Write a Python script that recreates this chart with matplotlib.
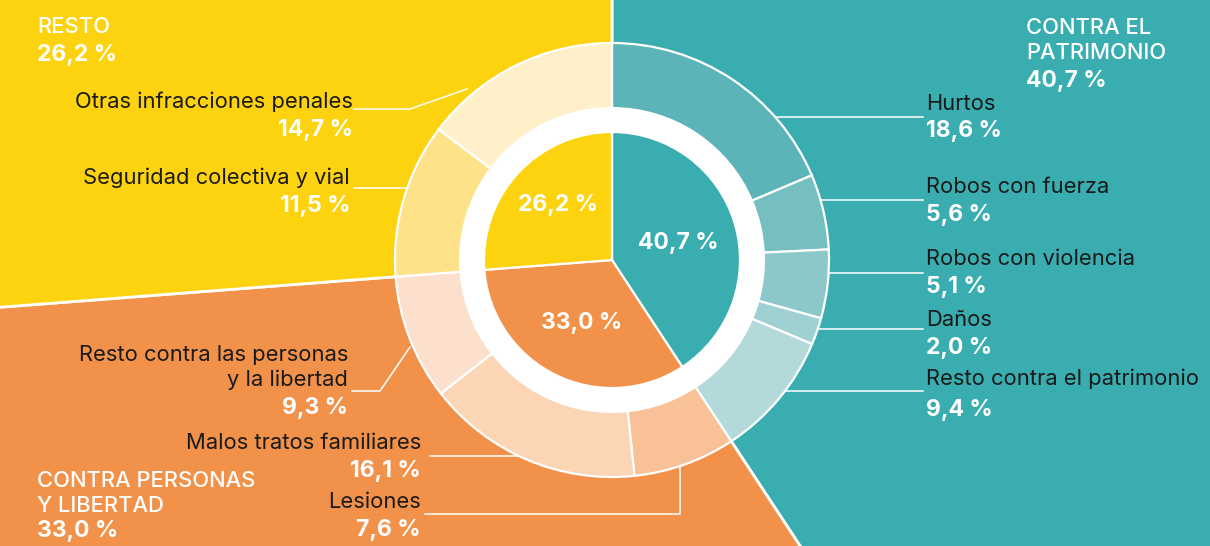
import matplotlib.pyplot as plt

plt.rcParams['font.family'] = ['Inter', 'DejaVu Sans']

W, H = 1210, 546

# grupos (anillo interior)
grupo_pct = [40.7, 33.0, 26.2]
grupo_col = ['#3AADB0', '#F2924A', '#FDD30F']
grupo_labels = ['CONTRA EL\nPATRIMONIO', 'CONTRA PERSONAS\nY LIBERTAD', 'RESTO']

# subcategorias (anillo exterior), en sentido horario desde arriba
sub_labels = ['Hurtos', 'Robos con fuerza', 'Robos con violencia', 'Daños',
              'Resto contra el patrimonio', 'Lesiones', 'Malos tratos familiares',
              'Resto contra las personas\ny la libertad', 'Seguridad colectiva y vial',
              'Otras infracciones penales']
sub_pct = [18.6, 5.6, 5.1, 2.0, 9.4, 7.6, 16.1, 9.3, 11.5, 14.7]
sub_col = ['#5CB4B8', '#75BFC1', '#8CC8C9', '#A0D1D2', '#B3D9DA',
           '#F8C197', '#FCD5B5', '#FCE0CD', '#FEE28A', '#FFF0CA']

fig = plt.figure(figsize=(W / 100, H / 100), dpi=100)
fig.patch.set_facecolor('white')

cx, cy, R = 612, 260, 217
ax = fig.add_axes([6 / W, 0, (W - 6) / W, (H - 5) / H])
kw = dict(startangle=90, counterclock=False)
ax.pie(grupo_pct, colors=grupo_col, radius=6, wedgeprops=dict(edgecolor='white', linewidth=2), **kw)
ax.pie(sub_pct, colors=sub_col, radius=1, wedgeprops=dict(width=0.30, edgecolor='white', linewidth=1.6), **kw)
ax.pie([1], colors=['white'], radius=0.70)
ax.pie(grupo_pct, colors=grupo_col, radius=0.59, wedgeprops=dict(edgecolor='white', linewidth=1.6), **kw)
ax.set_aspect('auto')
ax.set_xlim((6 - cx) / R, (W - cx) / R)
ax.set_ylim((cy - H) / R, (cy - 5) / R)
ax.axis('off')

# capa de textos en pixeles
ov = fig.add_axes([0, 0, 1, 1])
ov.set_xlim(0, W); ov.set_ylim(H, 0)
ov.axis('off'); ov.patch.set_alpha(0)

fs_lab, fs_pct, fs_head = 15.8, 16.5, 15.8
dark = '#1A1A1A'
LINE = 25

def pct(v):
    return f"{v:.1f} %".replace('.', ',')

def lines(x, y, s, **k):
    for j, t in enumerate(s.split('\n')):
        ov.text(x, y + j * LINE, t, va='center', **k)

# lineas guia
lc = dict(color='white', lw=1.1)
for y, x0 in [(117, 777), (200, 820), (273, 829), (329, 818), (391, 785)]:
    ov.plot([x0, 923], [y, y], **lc)
ov.plot([354, 410, 467], [109, 109, 89], **lc)
ov.plot([354, 406], [188, 188], **lc)
ov.plot([352, 380, 410], [391, 391, 347], **lc)
ov.plot([430, 519], [456, 456], **lc)
ov.plot([425, 680, 680], [514, 514, 466], **lc)

# etiquetas derecha
for i, (yl, yp) in enumerate([(104, 131), (187, 215), (259, 287), (320, 348), (379, 410)]):
    lines(926, yl, sub_labels[i], fontsize=fs_lab, color=dark, ha='left')
    ov.text(926, yp, pct(sub_pct[i]), fontsize=fs_pct, color='white', va='center', ha='left', fontweight='bold')

# etiquetas izquierda
left = [(5, 421, 502, 530), (6, 421, 443, 471), (7, 348, 355, 408), (8, 350, 178, 206), (9, 353, 102, 130)]
for i, x, yl, yp in left:
    lines(x, yl, sub_labels[i], fontsize=fs_lab, color=dark, ha='right')
    ov.text(x, yp, pct(sub_pct[i]), fontsize=fs_pct, color='white', va='center', ha='right', fontweight='bold')

# cabeceras de grupo
for (x, y, yp), lab, v in zip([(1026, 28, 81), (37, 481, 531), (37, 27, 55)], grupo_labels, grupo_pct):
    lines(x, y, lab, fontsize=fs_head, color='white', ha='left', fontweight='medium')
    ov.text(x, yp, pct(v), fontsize=fs_pct, color='white', va='center', ha='left', fontweight='bold')

# porcentajes del circulo interior
for (x, y), v in zip([(678, 243), (582, 323), (558, 205)], grupo_pct):
    ov.text(x, y, pct(v), fontsize=fs_pct, color='white', va='center', ha='center', fontweight='bold')

fig.savefig('out.png', dpi=100, facecolor='white')
